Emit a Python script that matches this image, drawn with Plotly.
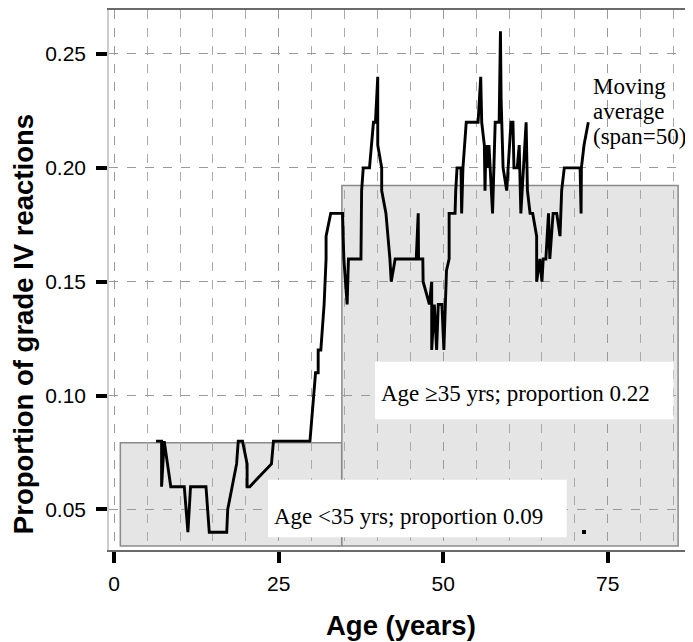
import plotly.graph_objects as go

# Moving average (span=50) of grade IV reaction proportion vs age
ages = [6.35, 7.2, 7.2, 7.6, 8.6, 10.65, 11.2, 11.6, 13.95, 14.45,
        17.1, 17.25, 18.6, 18.85, 19.5, 20.2, 20.2, 20.6, 23.9, 24.2,
        29.75, 30.25, 30.6, 31.0, 31.0, 31.4, 31.9, 32.2, 32.2, 32.9,
        34.7, 34.9, 35.4, 35.6, 37.5, 37.6, 37.85, 38.8, 39.4, 39.7,
        40.05, 40.05, 40.65, 40.65, 41.3, 41.9, 42.1, 42.7, 45.9, 46.2,
        46.25, 46.9, 46.95, 47.9, 48.25, 48.25, 48.65, 49.0, 49.25, 49.8,
        50.1, 50.5, 50.8, 50.9, 50.9, 51.8, 51.9, 52.1, 52.7, 52.8,
        53.0, 53.5, 55.3, 55.7, 55.85, 56.25, 56.35, 56.5, 56.8, 56.95,
        57.5, 57.8, 57.9, 58.5, 58.7, 58.8, 59.1, 59.65, 60.3, 60.6,
        60.75, 61.25, 61.55, 61.8, 62.6, 62.8, 63.2, 63.6, 64.2, 64.2,
        64.7, 65.0, 65.2, 65.6, 66.0, 66.2, 66.7, 67.25, 67.75, 68.0,
        68.4, 70.8, 70.95, 71.0, 71.4, 72.05]
proportions = [0.08, 0.08, 0.06, 0.08, 0.06, 0.06, 0.04, 0.06, 0.06, 0.04,
               0.04, 0.05, 0.07, 0.08, 0.08, 0.07, 0.06, 0.06, 0.07, 0.08,
               0.08, 0.10, 0.11, 0.11, 0.12, 0.12, 0.14, 0.16, 0.17, 0.18,
               0.18, 0.16, 0.14, 0.16, 0.16, 0.19, 0.20, 0.20, 0.22, 0.22,
               0.24, 0.21, 0.20, 0.19, 0.18, 0.16, 0.15, 0.16, 0.16, 0.18,
               0.16, 0.16, 0.15, 0.14, 0.15, 0.12, 0.14, 0.12, 0.14, 0.14,
               0.12, 0.155, 0.16, 0.16, 0.18, 0.18, 0.19, 0.20, 0.20, 0.18,
               0.20, 0.22, 0.22, 0.24, 0.22, 0.21, 0.19, 0.21, 0.20, 0.21,
               0.18, 0.21, 0.22, 0.22, 0.26, 0.23, 0.20, 0.19, 0.22, 0.22,
               0.20, 0.20, 0.21, 0.18, 0.22, 0.19, 0.18, 0.18, 0.17, 0.15,
               0.16, 0.15, 0.16, 0.16, 0.18, 0.16, 0.18, 0.18, 0.17, 0.19,
               0.20, 0.20, 0.18, 0.20, 0.21, 0.22]

# Age groups (gray blocks)
group_start = [0.93, 34.6]
group_end = [34.57, 85.7]
group_height = [0.0793, 0.1922]
group_labels = ["Age &lt;35 yrs; proportion 0.09", "Age \u226535 yrs; proportion 0.22"]

# isolated point near bottom
dot_age = [71.4]
dot_prop = [0.0401]

x_ticks = [0, 25, 50, 75]
y_ticks = [0.05, 0.10, 0.15, 0.20, 0.25]

Y_BASE = 0.034
SERIF = "Liberation Serif, Times New Roman, serif"
SANS = "Liberation Sans, Arial, sans-serif"

fig = go.Figure()

shapes = []
for x0, x1, h in zip(group_start, group_end, group_height):
    shapes.append(dict(type="rect", xref="x", yref="y", x0=x0, x1=x1, y0=Y_BASE, y1=h,
                       fillcolor="#e5e5e5", line=dict(color="#8a8a8a", width=1.5),
                       layer="below"))
# white label boxes
shapes.append(dict(type="rect", xref="x", yref="y", x0=23.37, x1=68.77, y0=0.0378, y1=0.063,
                   fillcolor="white", line=dict(width=0), layer="between"))
shapes.append(dict(type="rect", xref="x", yref="y", x0=39.64, x1=84.97, y0=0.0896, y1=0.1149,
                   fillcolor="white", line=dict(width=0), layer="between"))

fig.add_trace(go.Scatter(x=ages, y=proportions, mode="lines",
                         line=dict(color="black", width=2.9), showlegend=False,
                         hoverinfo="skip"))
fig.add_trace(go.Scatter(x=dot_age, y=dot_prop, mode="markers",
                         marker=dict(symbol="square", size=4, color="black"),
                         showlegend=False, hoverinfo="skip"))

annotations = [
    dict(x=24.0, y=0.0467, xref="x", yref="y", text=group_labels[0], showarrow=False,
         xanchor="left", yanchor="middle", font=dict(family=SERIF, size=23, color="black")),
    dict(x=40.3, y=0.1007, xref="x", yref="y", text=group_labels[1], showarrow=False,
         xanchor="left", yanchor="middle", font=dict(family=SERIF, size=23, color="black")),
]
for txt, yy in zip(["Moving", "average", "(span=50)"], [0.2358, 0.2248, 0.2138]):
    annotations.append(dict(x=72.55, y=yy, xref="x", yref="y", text=txt, showarrow=False,
                            xanchor="left", yanchor="middle", borderpad=0,
                            font=dict(family=SERIF, size=23, color="black")))
annotations.append(dict(x=-0.147, y=0.4185, xref="paper", yref="paper",
                        text="<b>Proportion of grade IV reactions</b>", textangle=-90,
                        showarrow=False, xanchor="center", yanchor="middle",
                        font=dict(family=SANS, size=27.5, color="black")))
annotations.append(dict(x=0.5, y=-0.14, xref="paper", yref="paper",
                        text="<b>Age (years)</b>", showarrow=False,
                        xanchor="center", yanchor="middle",
                        font=dict(family=SANS, size=27.5, color="black")))

# the page shows the figure with an 8px offset, so the figure is 8px smaller
fig.update_layout(
    width=685, height=634,
    margin=dict(l=101, r=0, t=2, b=92),
    paper_bgcolor="white", plot_bgcolor="white",
    shapes=shapes, annotations=annotations,
    xaxis=dict(range=[-0.79, 87.96], tickvals=x_ticks, ticks="outside", ticklen=11,
               tickwidth=3.5, tickcolor="black", ticklabelstandoff=3,
               tickfont=dict(family=SANS, size=21, color="black"),
               showline=True, linecolor="#6a6a6a", linewidth=1.5, mirror=True,
               showgrid=True, gridcolor="#9a9a9a", griddash="dash", gridwidth=1,
               minor=dict(dtick=5, tick0=0, showgrid=True, gridcolor="#aaaaaa",
                          griddash="dash", gridwidth=1, ticklen=0),
               zeroline=False),
    yaxis=dict(range=[0.0322, 0.2693], tickvals=y_ticks, tickformat=".2f",
               ticks="outside", ticklen=11, tickwidth=3.5, tickcolor="black",
               ticklabelstandoff=6,
               tickfont=dict(family=SANS, size=21, color="black"),
               showline=True, linecolor="#cccccc", linewidth=1.5, mirror=False,
               showgrid=True, gridcolor="#9a9a9a", griddash="dash", gridwidth=1,
               zeroline=False),
)

fig.write_html("out.html")
